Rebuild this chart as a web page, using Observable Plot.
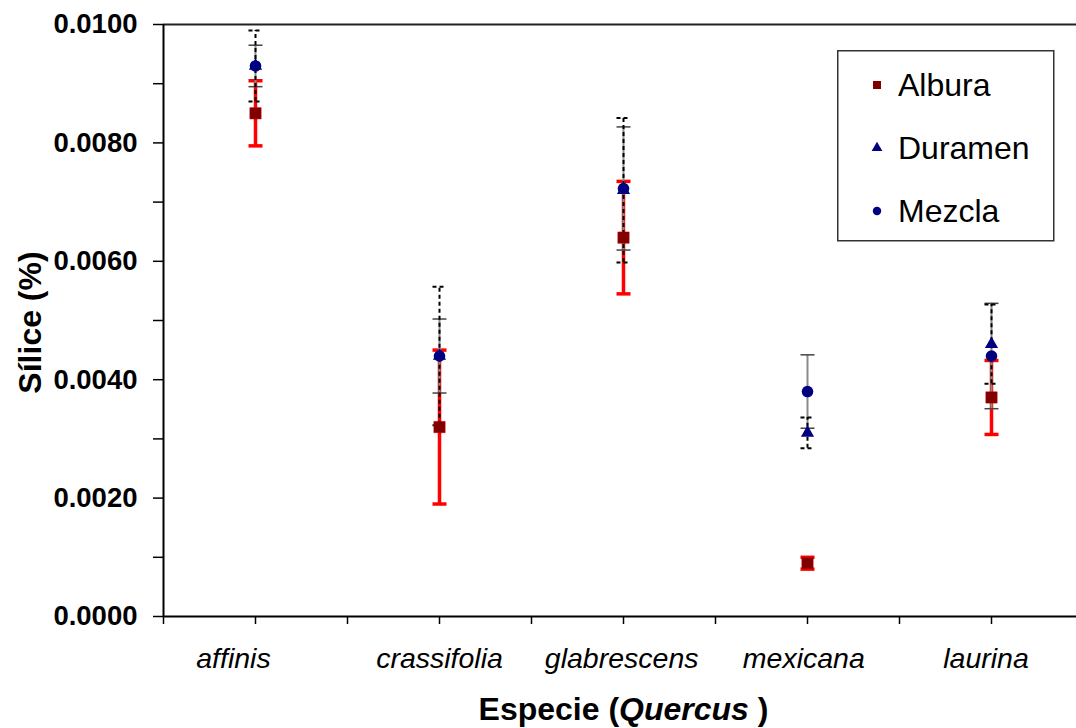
<!DOCTYPE html>
<html><head><meta charset="utf-8">
<script src="https://cdn.jsdelivr.net/npm/d3@7"></script>
<script src="https://cdn.jsdelivr.net/npm/@observablehq/plot@0.6"></script>
<style>
body{margin:0;background:#fff;}
#wrap{position:relative;width:1076px;height:728px;font-family:"Liberation Sans",Arial,sans-serif;}
#legend{position:absolute;left:837px;top:50px;}
</style></head><body><div id="wrap"></div>
<script>
const species = ["affinis", "crassifolia", "glabrescens", "mexicana", "laurina"];
const labelX = [0.88, 2.0, 2.99, 3.98, 4.97];
const albura = [0.0085, 0.0032, 0.0064, 0.0009, 0.0037];
const alburaErr = [0.00055, 0.0013, 0.00095, 0.0001, 0.000625];
const duramen = [0.0093, 0.0044, 0.0072, 0.0031, 0.0046];
const duramenErr = [0.0006, 0.00117, 0.00122, 0.00026, 0.00067];
const mezcla = [0.0093, 0.0044, 0.00723, 0.0038, 0.0044];
const mezclaErr = [0.00035, 0.000625, 0.00104, 0.00062, 0.00089];
const yMajor = [0, 0.002, 0.004, 0.006, 0.008, 0.01];
const yMinor = [0.001, 0.003, 0.005, 0.007, 0.009];
const xTicks = [0.5, 1, 1.5, 2, 2.5, 3, 3.5, 4, 4.5, 5];
const seriesNames = ["Albura", "Duramen", "Mezcla"];
const yTitle = "Sílice (%)";

const rows = (vals, errs) => vals.map((v, k) => ({i: k + 1, v, e: errs[k]}));
const caps = (r) => r.flatMap(d => [{i: d.i, y: d.v + d.e}, {i: d.i, y: d.v - d.e}]);
const A = rows(albura, alburaErr), D = rows(duramen, duramenErr), M = rows(mezcla, mezclaErr);
const capSym = {draw(ctx) { ctx.moveTo(-7, 0); ctx.lineTo(7, 0); }};
const FONT = '"Liberation Sans", Arial, sans-serif';

const W = 1076, H = 728, ML = 163, MR = 0, MT = 24, MB = 112;
const unit = 184; // px per category
const chart = Plot.plot({
  width: W, height: H, marginLeft: ML, marginRight: MR, marginTop: MT, marginBottom: MB,
  style: {fontFamily: FONT, background: "#fff", color: "#000"},
  x: {domain: [0.5, 0.5 + (W - ML - MR) / unit], axis: null},
  y: {domain: [0, 0.01], axis: null},
  marks: [
    Plot.ruleY([0.01], {stroke: "#222", strokeWidth: 2}),
    Plot.axisY({ticks: yMinor, tickSize: 10, tickFormat: () => "", label: null, strokeWidth: 1.5}),
    Plot.axisY({ticks: yMajor, tickSize: 10, tickPadding: 16, tickFormat: d3.format(".4f"), label: null,
      fontSize: 27.5, fontWeight: "bold", strokeWidth: 1.5}),
    Plot.axisX({ticks: xTicks, tickSize: 8, tickFormat: () => "", label: null, strokeWidth: 1.5}),
    Plot.ruleY([0], {stroke: "#000", strokeWidth: 2}),
    Plot.ruleX([0.5], {stroke: "#000", strokeWidth: 2}),
    // Albura error bars
    Plot.ruleX(A, {x: "i", y1: d => d.v - d.e, y2: d => d.v + d.e, stroke: "#ff0000", strokeWidth: 3.5}),
    Plot.dot(caps(A), {x: "i", y: "y", symbol: capSym, fill: "none", stroke: "#ff0000", strokeWidth: 3.5}),
    // Mezcla error bars
    Plot.ruleX(M, {x: "i", y1: d => d.v - d.e, y2: d => d.v + d.e, stroke: "#8a8a8a", strokeWidth: 2}),
    Plot.dot(caps(M), {x: "i", y: "y", symbol: capSym, fill: "none", stroke: "#444", strokeWidth: 1.5}),
    // Duramen error bars
    Plot.ruleX(D, {x: "i", y1: d => d.v - d.e, y2: d => d.v + d.e, stroke: "#000", strokeWidth: 2, strokeDasharray: "4,3"}),
    Plot.dot(caps(D), {x: "i", y: "y", symbol: capSym, fill: "none", stroke: "#000", strokeWidth: 2, strokeDasharray: "4,3"}),
    // markers
    Plot.dot(A, {x: "i", y: "v", symbol: "square", r: 6.4, fill: "#800000", stroke: "#c00000", strokeWidth: 0.5}),
    Plot.dot(D, {x: "i", y: "v", symbol: "triangle", r: 4.9, fill: "#000080"}),
    Plot.dot(M, {x: "i", y: "v", symbol: "circle", r: 5.8, fill: "#000080"}),
    // category labels
    Plot.text(species, {x: (d, k) => labelX[k], frameAnchor: "bottom", dy: 51, lineAnchor: "bottom",
      fontStyle: "italic", fontSize: 28.5, fill: "#000"}),
    // y title
    Plot.text([yTitle], {frameAnchor: "left", dx: -133, dy: 2, rotate: -90, lineAnchor: "middle", textAnchor: "middle",
      fontSize: 32, fontWeight: "bold", fill: "#000"}),
    // x title with italic genus
    (index, scales, values, dims) => {
      const t = d3.create("svg:text")
        .attr("x", (dims.marginLeft + dims.width - dims.marginRight) / 2 + 4)
        .attr("y", dims.height - 8)
        .attr("text-anchor", "middle")
        .attr("font-size", 32).attr("font-weight", "bold").attr("fill", "#000")
        .attr("font-family", FONT);
      t.append("tspan").text("Especie (");
      t.append("tspan").attr("font-style", "italic").text("Quercus");
      t.append("tspan").text(" )");
      return t.node();
    }
  ]
});
const wrap = document.getElementById("wrap");
wrap.appendChild(chart);

// legend
const lg = d3.select(wrap).append("svg").attr("id", "legend")
  .attr("width", 218).attr("height", 192);
lg.append("rect").attr("x", 0.75).attr("y", 0.75).attr("width", 216).attr("height", 190)
  .attr("fill", "#fff").attr("stroke", "#333").attr("stroke-width", 1.5);
const rowsY = [35, 98, 161];
const symTypes = [d3.symbolSquare, d3.symbolTriangle, d3.symbolCircle];
const symSizes = [64, 50, 56];
const symColors = ["#800000", "#000080", "#000080"];
seriesNames.forEach((name, k) => {
  lg.append("path").attr("d", d3.symbol(symTypes[k], symSizes[k])())
    .attr("transform", `translate(40,${rowsY[k]})`).attr("fill", symColors[k]);
  lg.append("text").attr("x", 61).attr("y", rowsY[k] + 11).attr("font-size", 32)
    .attr("font-family", FONT).attr("fill", "#000").text(name);
});
</script></body></html>
